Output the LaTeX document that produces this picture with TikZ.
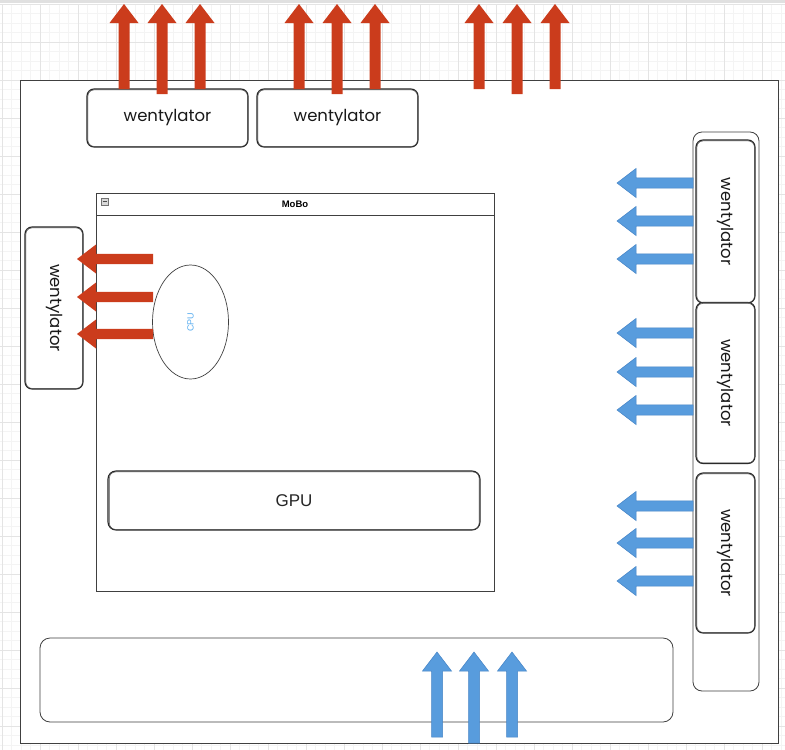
\documentclass[tikz,border=0pt]{standalone}
\usepackage{fontspec}
\setmainfont{Liberation Sans}
\newfontfamily\handfont{Poppins}
\usetikzlibrary{shapes.geometric}
\definecolor{hotred}{HTML}{CB3C1C}
\definecolor{coolblue}{HTML}{589CDD}
\definecolor{cooledge}{HTML}{4584C6}
\definecolor{gridminor}{HTML}{F4F4F4}
\definecolor{gridmajor}{HTML}{E4E4E4}
\definecolor{cpublue}{HTML}{5AAEF0}
\newcommand{\arrowup}[4]{%
  \filldraw[#4] (#1,#2) -- (#1+14.5,#2+19) -- (#1+5.5,#2+19) -- (#1+5.5,#3)
    -- (#1-5.5,#3) -- (#1-5.5,#2+19) -- (#1-14.5,#2+19) -- cycle;}
\newcommand{\arrowleft}[4]{%
  \filldraw[#4] (#1,#2) -- (#1+19,#2-14.5) -- (#1+19,#2-5.2) -- (#3,#2-5.2)
    -- (#3,#2+5.2) -- (#1+19,#2+5.2) -- (#1+19,#2+14.5) -- cycle;}
\tikzset{
  redarrow/.style={fill=hotred, draw=none},
  bluearrow/.style={fill=coolblue, draw=cooledge, line width=0.5pt},
  fanbox/.style={draw=black!85, line width=1.1pt, rounded corners=7pt, fill=white,
    inner sep=0pt, font=\handfont\fontsize{16.5}{16.5}\selectfont, text=black!90},
  fantext/.style={rotate=-90, font=\handfont\fontsize{16.5}{16.5}\selectfont, text=black!90},
  sketchline/.style={draw=black!70, line width=0.5pt, rounded corners=6pt},
  plainbox/.style={draw=black!75, line width=0.8pt},
}
\begin{document}
\begin{tikzpicture}[x=1pt,y=-1pt]
\useasboundingbox (0,0) rectangle (785,750);
\fill[white] (0,0) rectangle (785,750);
% grid
\foreach \i in {0,...,83} {
  \draw[gridminor, line width=0.5pt] (2+9.5*\i,4) -- (2+9.5*\i,750);
}
\foreach \i in {0,...,79} {
  \draw[gridminor, line width=0.5pt] (0,4+9.5*\i) -- (785,4+9.5*\i);
}
\foreach \i in {0,...,20} {
  \draw[gridmajor, line width=0.6pt] (2+38*\i,4) -- (2+38*\i,750);
  \draw[gridmajor, line width=0.6pt] (0,4+38*\i) -- (785,4+38*\i);
}
\fill[black!12] (0,0) rectangle (785,3);
% case
\draw[fill=white, draw=black!75, line width=0.9pt] (20,80) rectangle (778,743);
% right container
\draw[plainbox, rounded corners=9pt, fill=white] (693,132) rectangle (759,691);
% fans
\node[fanbox, minimum width=161pt, minimum height=58pt] (ft1) at (167.5,118) {wentylator};
\node[fanbox, minimum width=161pt, minimum height=58pt] (ft2) at (337.5,118) {wentylator};
\node[fanbox, minimum width=58pt, minimum height=162pt] (fl) at (54,308) {};
\node[fantext] at (fl.center) {wentylator};
\node[fanbox, minimum width=59pt, minimum height=163pt] (fr1) at (725.5,221.5) {};
\node[fantext] at (fr1.center) {wentylator};
\node[fanbox, minimum width=59pt, minimum height=161pt] (fr2) at (725.5,383) {};
\node[fantext] at (fr2.center) {wentylator};
\node[fanbox, minimum width=59pt, minimum height=160pt] (fr3) at (725.5,553) {};
\node[fantext] at (fr3.center) {wentylator};
\foreach \f in {ft1,ft2,fl,fr1,fr2,fr3} {
  \draw[sketchline] ([shift={(1.5,1.5)}]\f.north west) rectangle ([shift={(-1.2,-1.2)}]\f.south east);
}
% MoBo
\draw[plainbox, fill=white] (96,193) rectangle (494,591);
\draw[plainbox] (96,215) -- (494,215);
\node[font=\bfseries\fontsize{9.5}{10}\selectfont] (mobo) at (295,204.5) {MoBo};
\draw[fill=black!15, draw=black!55, line width=0.4pt] (101,198) rectangle (108,205);
\draw[black!70, line width=0.6pt] (102.5,201.5) -- (106.5,201.5);
% CPU
\node[draw=black!75, line width=0.7pt, ellipse, minimum width=76pt, minimum height=114pt,
  inner sep=0pt, fill=white] (cpu) at (190.5,322) {};
\node[rotate=90, text=cpublue, font=\fontsize{9}{9}\selectfont] at (cpu.center) {CPU};
% GPU
\node[fanbox, minimum width=372pt, minimum height=59pt, rounded corners=8pt,
  font=\fontsize{17}{17}\selectfont, text=black!85] (gpu) at (294,500.5) {GPU};
\draw[sketchline] ([shift={(2,1.5)}]gpu.north west) rectangle ([shift={(-1.5,-1.2)}]gpu.south east);
% bottom bay
\draw[plainbox, rounded corners=10pt, fill=white] (40,638) rectangle (673,722);
% red up arrows
\foreach \x/\b in {124/89,162/94,200/89,299/89,337/94,375/89,479/89,517/94,555/89} {
  \arrowup{\x}{4}{\b}{redarrow}
}
% red left arrows
\foreach \y in {259,297,334} {
  \arrowleft{77}{\y}{153}{redarrow}
}
% blue left arrows
\foreach \y in {183,221,259,333,372,410,506,543,581} {
  \arrowleft{617}{\y}{693}{bluearrow}
}
% blue up arrows
\foreach \x/\b in {437/737,474/743,512/737} {
  \arrowup{\x}{652}{\b}{bluearrow}
}
\end{tikzpicture}
\end{document}
